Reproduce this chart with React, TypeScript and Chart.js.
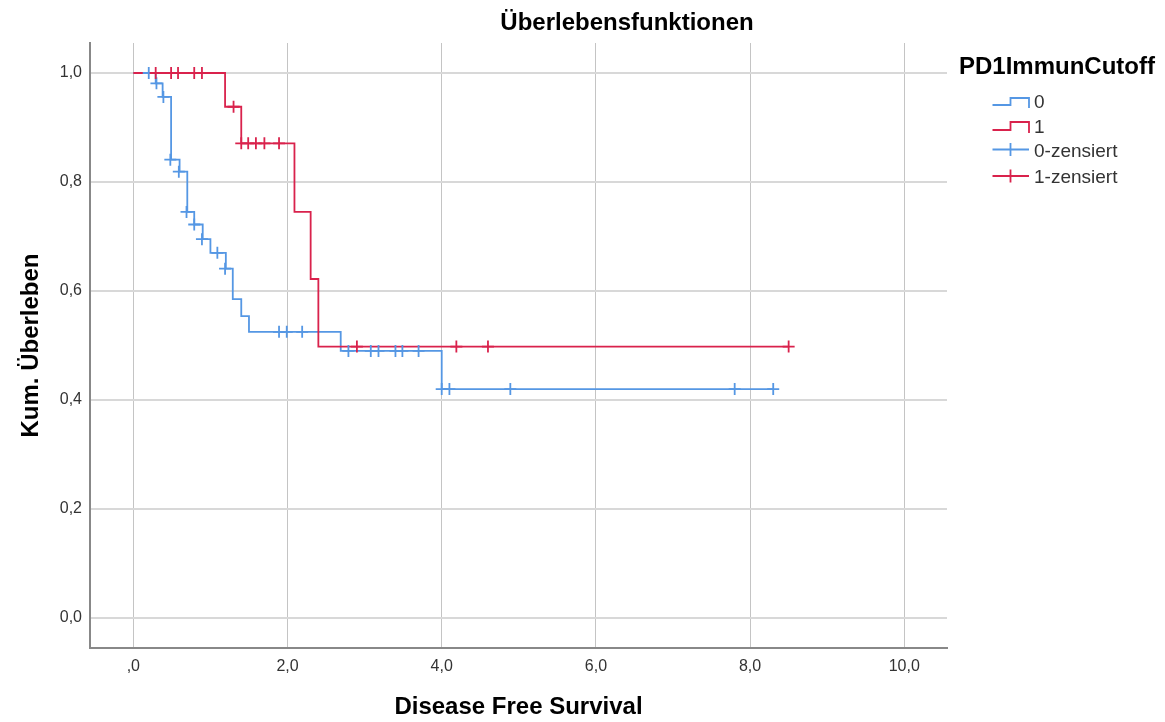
import React, { useEffect, useRef } from "react";
import { Chart, registerables } from "chart.js";

Chart.register(...registerables);

// ---- data ----
const group0Times = [0, 0.29, 0.38, 0.49, 0.6, 0.7, 0.79, 0.9, 1.0, 1.2, 1.29, 1.4, 1.5, 2.69, 4.0, 8.3];
const group0Surv = [1.0, 0.981, 0.956, 0.841, 0.819, 0.745, 0.722, 0.695, 0.67, 0.641, 0.585, 0.554, 0.525, 0.49, 0.42, 0.42];
const group1Times = [0, 1.19, 1.4, 2.09, 2.3, 2.4, 8.5];
const group1Surv = [1.0, 0.938, 0.871, 0.745, 0.622, 0.498, 0.498];

const group0CensTimes = [0.2, 0.3, 0.39, 0.48, 0.59, 0.69, 0.79, 0.89, 1.09, 1.19, 1.89, 1.99, 2.19, 2.79, 3.08, 3.18, 3.4, 3.49, 3.7, 4.0, 4.1, 4.89, 7.8, 8.3];
const group0CensSurv = [1.0, 0.981, 0.956, 0.841, 0.819, 0.745, 0.722, 0.695, 0.67, 0.641, 0.525, 0.525, 0.525, 0.49, 0.49, 0.49, 0.49, 0.49, 0.49, 0.42, 0.42, 0.42, 0.42, 0.42];
const group1CensTimes = [0.29, 0.49, 0.58, 0.79, 0.89, 1.3, 1.4, 1.49, 1.59, 1.7, 1.89, 2.9, 4.19, 4.6, 8.5];
const group1CensSurv = [1.0, 1.0, 1.0, 1.0, 1.0, 0.938, 0.871, 0.871, 0.871, 0.871, 0.871, 0.498, 0.498, 0.498, 0.498];

const xTickValues = [0, 2, 4, 6, 8, 10];
const xTickLabels = [",0", "2,0", "4,0", "6,0", "8,0", "10,0"];
const yTickValues = [0, 0.2, 0.4, 0.6, 0.8, 1.0];
const yTickLabels = ["0,0", "0,2", "0,4", "0,6", "0,8", "1,0"];

const chartTitle = "Überlebensfunktionen";
const xAxisTitle = "Disease Free Survival";
const yAxisTitle = "Kum. Überleben";
const legendTitle = "PD1ImmunCutoff";
const seriesNames = ["0", "1", "0-zensiert", "1-zensiert"];

const BLUE = "#5597e4";
const RED = "#d9224c";
const FONT = '"Liberation Sans", Arial, sans-serif';

const toPts = (xs: number[], ys: number[]) => xs.map((x, i) => ({ x, y: ys[i] }));

const overlayPlugin = {
  id: "overlay",
  afterDraw(chart: any) {
    const ctx = chart.ctx as CanvasRenderingContext2D;
    ctx.save();
    ctx.fillStyle = "#000";
    ctx.font = `bold 24px ${FONT}`;
    ctx.textAlign = "center";
    ctx.textBaseline = "middle";
    ctx.fillText(chartTitle, 627, 23);

    ctx.textAlign = "left";
    ctx.fillText(legendTitle, 959, 67);

    ctx.font = `19px ${FONT}`;
    ctx.fillStyle = "#333";
    ctx.lineWidth = 1.8;
    const x0 = 992.5, xm = 1010.5, x1 = 1029;
    const steps = [
      { color: BLUE, low: 105, high: 98, text: 103, label: seriesNames[0] },
      { color: RED, low: 130, high: 122, text: 128, label: seriesNames[1] },
    ];
    steps.forEach((s) => {
      ctx.strokeStyle = s.color;
      ctx.beginPath();
      ctx.moveTo(x0, s.low);
      ctx.lineTo(xm, s.low);
      ctx.lineTo(xm, s.high);
      ctx.lineTo(x1, s.high);
      ctx.lineTo(x1, s.low + 3);
      ctx.stroke();
      ctx.fillText(s.label, 1034, s.text);
    });
    const cens = [
      { color: BLUE, y: 149.5, text: 152, label: seriesNames[2] },
      { color: RED, y: 176, text: 178, label: seriesNames[3] },
    ];
    cens.forEach((c) => {
      ctx.strokeStyle = c.color;
      ctx.beginPath();
      ctx.moveTo(x0, c.y);
      ctx.lineTo(x1, c.y);
      ctx.moveTo(xm, c.y - 6.5);
      ctx.lineTo(xm, c.y + 6.5);
      ctx.stroke();
      ctx.fillText(c.label, 1034, c.text);
    });
    ctx.restore();
  },
};

export default function App() {
  const canvasRef = useRef<HTMLCanvasElement | null>(null);

  useEffect(() => {
    if (!canvasRef.current) return;
    const chart = new Chart(canvasRef.current, {
      type: "scatter",
      data: {
        datasets: [
          {
            label: seriesNames[2],
            data: toPts(group0CensTimes, group0CensSurv),
            showLine: false,
            pointStyle: "cross",
            pointRadius: 6,
            borderColor: BLUE,
            backgroundColor: BLUE,
            borderWidth: 1.8,
            order: 1,
          },
          {
            label: seriesNames[3],
            data: toPts(group1CensTimes, group1CensSurv),
            showLine: false,
            pointStyle: "cross",
            pointRadius: 6,
            borderColor: RED,
            backgroundColor: RED,
            borderWidth: 1.8,
            order: 0,
          },
          {
            label: seriesNames[1],
            data: toPts(group1Times, group1Surv),
            showLine: true,
            stepped: "before",
            pointRadius: 0,
            borderColor: RED,
            borderWidth: 1.8,
            order: 2,
          },
          {
            label: seriesNames[0],
            data: toPts(group0Times, group0Surv),
            showLine: true,
            stepped: "before",
            pointRadius: 0,
            borderColor: BLUE,
            borderWidth: 1.8,
            order: 3,
          },
        ],
      },
      options: {
        animation: false,
        responsive: false,
        layout: { padding: { left: 0, top: 43, right: 218, bottom: 0 } },
        plugins: {
          legend: { display: false },
          title: { display: false },
          tooltip: { enabled: false },
        },
        scales: {
          x: {
            type: "linear",
            position: "bottom",
            min: -0.562,
            max: 10.554,
            afterFit: (s: any) => {
              s.height = 74;
            },
            afterBuildTicks: (s: any) => {
              s.ticks = xTickValues.map((v) => ({ value: v }));
            },
            grid: { color: "#c4c4c4", lineWidth: 1, drawTicks: false },
            border: { display: true, color: "#888", width: 2 },
            ticks: {
              padding: 9,
              color: "#333",
              font: { family: FONT, size: 16 },
              callback: (v: any) => {
                const i = xTickValues.indexOf(Number(v));
                return i >= 0 ? xTickLabels[i] : "";
              },
            },
            title: {
              display: true,
              text: xAxisTitle,
              color: "#000",
              font: { family: FONT, size: 24, weight: "bold" },
              padding: { top: 0, bottom: 0 },
            },
          },
          y: {
            type: "linear",
            min: -0.055,
            max: 1.055,
            afterFit: (s: any) => {
              s.width = 90;
            },
            afterBuildTicks: (s: any) => {
              s.ticks = yTickValues.map((v) => ({ value: v }));
            },
            grid: { color: "#d8d8d8", lineWidth: 2, drawTicks: false },
            border: { display: true, color: "#888", width: 2 },
            ticks: {
              padding: 8,
              color: "#333",
              font: { family: FONT, size: 16 },
              callback: (v: any) => {
                const i = yTickValues.findIndex((t) => Math.abs(t - Number(v)) < 1e-6);
                return i >= 0 ? yTickLabels[i] : "";
              },
            },
            title: {
              display: true,
              text: yAxisTitle,
              color: "#000",
              font: { family: FONT, size: 24, weight: "bold" },
              padding: { top: 17, bottom: 0 },
            },
          },
        },
      },
      plugins: [overlayPlugin],
    });
    return () => chart.destroy();
  }, []);

  return (
    <div style={{ position: "absolute", left: 0, top: 0, width: 1165, height: 722, background: "#fff" }}>
      <canvas ref={canvasRef} width={1165} height={722} />
    </div>
  );
}
